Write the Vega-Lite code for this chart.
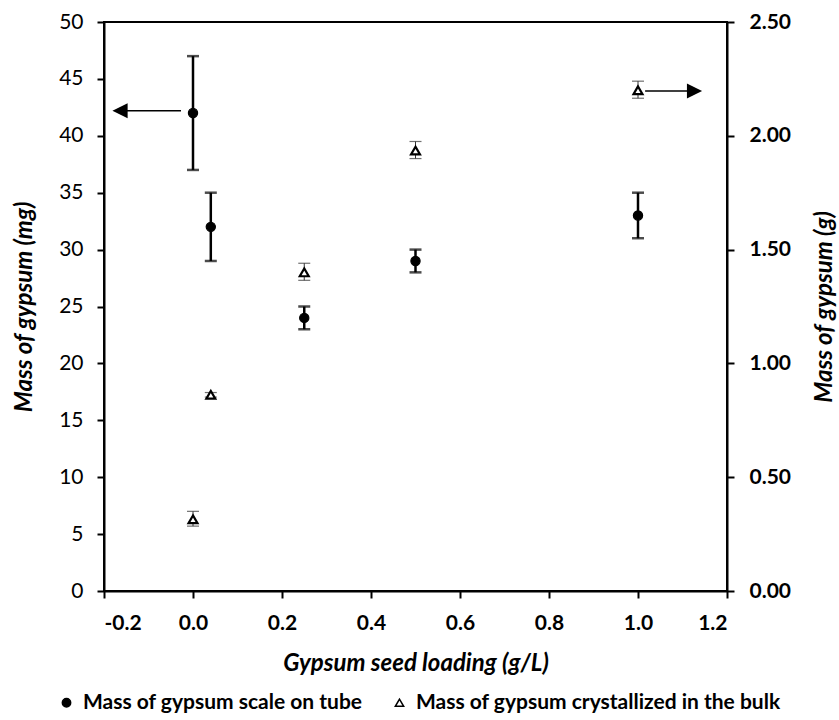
{
  "$schema": "https://vega.github.io/schema/vega-lite/v6.json",
  "autosize": {"type": "none"},
  "padding": {"left": 104, "top": 22, "right": 112, "bottom": 129},
  "width": 623,
  "height": 569,
  "background": "white",
  "config": {
    "view": {"stroke": "black", "strokeWidth": 2},
    "axis": {
      "grid": false,
      "domainColor": "black",
      "domainWidth": 2,
      "tickColor": "black",
      "tickWidth": 2,
      "tickSize": 7,
      "labelFont": "Lato",
      "labelFontSize": 21,
      "labelColor": "black",
      "labelPadding": 14,
      "titleFont": "Lato",
      "titleFontSize": 24,
      "titleFontWeight": "bold",
      "titleFontStyle": "italic",
      "titleColor": "black"
    },
    "legend": {
      "labelFont": "Lato",
      "labelFontSize": 21,
      "labelFontWeight": "bold",
      "labelColor": "black",
      "labelLimit": 0
    }
  },
  "datasets": {
    "tube": [
      {"x": 0.0, "y": 42, "lo": 37, "hi": 47, "series": "Mass of gypsum scale on tube"},
      {"x": 0.04, "y": 32, "lo": 29, "hi": 35, "series": "Mass of gypsum scale on tube"},
      {"x": 0.25, "y": 24, "lo": 23, "hi": 25, "series": "Mass of gypsum scale on tube"},
      {"x": 0.5, "y": 29, "lo": 28, "hi": 30, "series": "Mass of gypsum scale on tube"},
      {"x": 1.0, "y": 33, "lo": 31, "hi": 35, "series": "Mass of gypsum scale on tube"}
    ],
    "bulk": [
      {"x": 0.0, "y": 0.315, "lo": 0.285, "hi": 0.35, "series": "Mass of gypsum crystallized in the bulk"},
      {"x": 0.04, "y": 0.862, "lo": 0.852, "hi": 0.872, "series": "Mass of gypsum crystallized in the bulk"},
      {"x": 0.25, "y": 1.40, "lo": 1.365, "hi": 1.44, "series": "Mass of gypsum crystallized in the bulk"},
      {"x": 0.5, "y": 1.935, "lo": 1.90, "hi": 1.975, "series": "Mass of gypsum crystallized in the bulk"},
      {"x": 1.0, "y": 2.20, "lo": 2.165, "hi": 2.24, "series": "Mass of gypsum crystallized in the bulk"}
    ],
    "arrowL": [{"x": -0.027, "x2": -0.155, "hx": -0.164, "y": 42.2}],
    "arrowR": [{"x": 1.016, "x2": 1.12, "hx": 1.127, "y": 2.197}]
  },
  "encoding": {
    "x": {
      "field": "x",
      "type": "quantitative",
      "title": "Gypsum seed loading (g/L)",
      "scale": {"domain": [-0.2, 1.2], "nice": false, "zero": false},
      "axis": {
        "title": "Gypsum seed loading (g/L)",
        "values": [-0.2, 0, 0.2, 0.4, 0.6, 0.8, 1.0, 1.2],
        "format": ".1f",
        "labelExpr": "replace(datum.label, '\u2212', '-')",
        "labelFontWeight": "bold",
        "labelPadding": 14,
        "titlePadding": 18
      }
    }
  },
  "layer": [
    {
      "layer": [
        {
          "data": {"name": "tube"},
          "mark": {"type": "rule", "color": "black", "strokeWidth": 2.5},
          "encoding": {
            "y": {
              "field": "lo",
              "type": "quantitative",
              "title": "Mass of gypsum (mg)",
              "scale": {"domain": [0, 50], "nice": false},
              "axis": {
                "orient": "left",
                "title": "Mass of gypsum (mg)",
                "values": [0, 5, 10, 15, 20, 25, 30, 35, 40, 45, 50],
                "format": "d",
                "labelFontWeight": "normal",
                "titlePadding": 22
              }
            },
            "y2": {"field": "hi"}
          }
        },
        {
          "data": {"name": "tube"},
          "mark": {"type": "tick", "orient": "horizontal", "color": "black", "size": 12, "thickness": 2.5},
          "encoding": {"y": {"field": "lo", "type": "quantitative", "title": "Mass of gypsum (mg)"}}
        },
        {
          "data": {"name": "tube"},
          "mark": {"type": "tick", "orient": "horizontal", "color": "black", "size": 12, "thickness": 2.5},
          "encoding": {"y": {"field": "hi", "type": "quantitative", "title": "Mass of gypsum (mg)"}}
        },
        {
          "data": {"name": "tube"},
          "mark": {"type": "point", "filled": true, "size": 85, "opacity": 1, "stroke": "black", "strokeWidth": 1.2},
          "encoding": {
            "y": {"field": "y", "type": "quantitative", "title": "Mass of gypsum (mg)"},
            "shape": {
              "field": "series",
              "type": "nominal",
              "scale": {
                "domain": ["Mass of gypsum scale on tube", "Mass of gypsum crystallized in the bulk"],
                "range": ["circle", "triangle-up"]
              },
              "legend": {
                "title": null,
                "orient": "none",
                "direction": "horizontal",
                "legendX": -48,
                "legendY": 670,
                "symbolSize": 70,
                "columnPadding": 26,
                "labelOffset": 6,
                "labelLimit": 0,
                "encode": {
                  "symbols": {
                    "update": {
                      "stroke": {"value": "black"},
                      "strokeWidth": {"value": 1.3},
                      "opacity": {"value": 1}
                    }
                  }
                }
              }
            },
            "fill": {
              "field": "series",
              "type": "nominal",
              "scale": {
                "domain": ["Mass of gypsum scale on tube", "Mass of gypsum crystallized in the bulk"],
                "range": ["black", "white"]
              },
              "legend": {
                "title": null,
                "orient": "none",
                "direction": "horizontal",
                "legendX": -48,
                "legendY": 670,
                "symbolSize": 70,
                "columnPadding": 26,
                "labelOffset": 6,
                "labelLimit": 0,
                "encode": {
                  "symbols": {
                    "update": {
                      "stroke": {"value": "black"},
                      "strokeWidth": {"value": 1.3},
                      "opacity": {"value": 1}
                    }
                  }
                }
              }
            }
          }
        },
        {
          "data": {"name": "arrowL"},
          "mark": {"type": "rule", "color": "black", "strokeWidth": 1.6},
          "encoding": {
            "x2": {"field": "x2"},
            "y": {"field": "y", "type": "quantitative", "title": "Mass of gypsum (mg)"}
          }
        },
        {
          "data": {"name": "arrowL"},
          "mark": {"type": "point", "shape": "M-1,0L1,-1L1,1Z", "filled": true, "color": "black", "opacity": 1, "size": 230},
          "encoding": {
            "x": {"field": "hx", "type": "quantitative", "title": "Gypsum seed loading (g/L)"},
            "y": {"field": "y", "type": "quantitative", "title": "Mass of gypsum (mg)"}
          }
        }
      ]
    },
    {
      "layer": [
        {
          "data": {"name": "bulk"},
          "mark": {"type": "rule", "color": "#333333", "strokeWidth": 1},
          "encoding": {
            "y": {
              "field": "lo",
              "type": "quantitative",
              "title": "Mass of gypsum (g)",
              "scale": {"domain": [0, 2.5], "nice": false},
              "axis": {
                "orient": "right",
                "title": "Mass of gypsum (g)",
                "values": [0, 0.5, 1.0, 1.5, 2.0, 2.5],
                "format": ".2f",
                "labelFontWeight": "bold",
                "labelPadding": 15,
                "titleAngle": 270,
                "titleBaseline": "top",
                "titlePadding": 22
              }
            },
            "y2": {"field": "hi"}
          }
        },
        {
          "data": {"name": "bulk"},
          "mark": {"type": "tick", "orient": "horizontal", "color": "#333333", "size": 12, "thickness": 1.2},
          "encoding": {"y": {"field": "lo", "type": "quantitative", "title": "Mass of gypsum (g)"}}
        },
        {
          "data": {"name": "bulk"},
          "mark": {"type": "tick", "orient": "horizontal", "color": "#333333", "size": 12, "thickness": 1.2},
          "encoding": {"y": {"field": "hi", "type": "quantitative", "title": "Mass of gypsum (g)"}}
        },
        {
          "data": {"name": "bulk"},
          "mark": {"type": "point", "filled": true, "size": 80, "opacity": 1, "stroke": "black", "strokeWidth": 2.2},
          "encoding": {
            "y": {"field": "y", "type": "quantitative", "title": "Mass of gypsum (g)"},
            "shape": {"field": "series", "type": "nominal"},
            "fill": {"field": "series", "type": "nominal"}
          }
        },
        {
          "data": {"name": "arrowR"},
          "mark": {"type": "rule", "color": "black", "strokeWidth": 1.6},
          "encoding": {
            "x2": {"field": "x2"},
            "y": {"field": "y", "type": "quantitative", "title": "Mass of gypsum (g)"}
          }
        },
        {
          "data": {"name": "arrowR"},
          "mark": {"type": "point", "shape": "M1,0L-1,-1L-1,1Z", "filled": true, "color": "black", "opacity": 1, "size": 230},
          "encoding": {
            "x": {"field": "hx", "type": "quantitative", "title": "Gypsum seed loading (g/L)"},
            "y": {"field": "y", "type": "quantitative", "title": "Mass of gypsum (g)"}
          }
        }
      ]
    }
  ],
  "resolve": {"scale": {"y": "independent"}}
}
